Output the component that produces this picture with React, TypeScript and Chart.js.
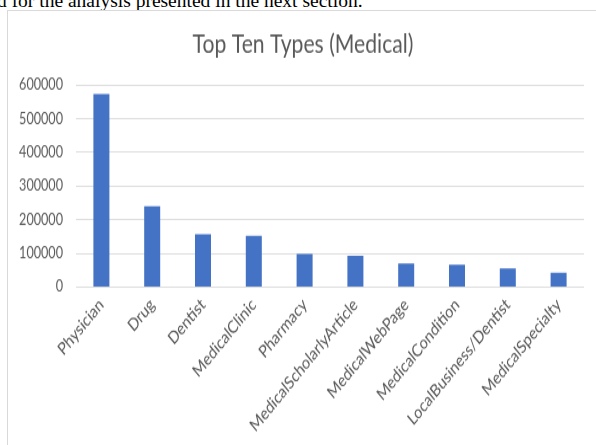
import React, { useEffect, useRef } from 'react';
import { Chart, registerables } from 'chart.js';

Chart.register(...registerables);

const categories = [
  'Physician',
  'Drug',
  'Dentist',
  'MedicalClinic',
  'Pharmacy',
  'MedicalScholarlyArticle',
  'MedicalWebPage',
  'MedicalCondition',
  'LocalBusiness/Dentist',
  'MedicalSpecialty',
];
const counts = [573000, 240000, 157000, 152000, 98000, 93000, 70000, 66000, 55000, 42500];
const yTicks = [0, 100000, 200000, 300000, 400000, 500000, 600000];
const titleText = 'Top Ten Types (Medical)';
const captionText = 'd for the analysis presented in the next section.';

const STRETCH = 1.23;
const CW = 588;
const CH = 360;
const FAMILY = 'Lato, "Open Sans", sans-serif';
const TEXT = '#595959';

function fitSize(text: string, target: number): number {
  const ctx = document.createElement('canvas').getContext('2d')!;
  ctx.font = `100px ${FAMILY}`;
  return (100 * target) / ctx.measureText(text).width;
}

const titleShift = {
  id: 'titleShift',
  afterLayout(chart: any) {
    const tb = chart.titleBlock;
    if (tb) {
      tb.left = 14;
      tb.width = tb.right - tb.left;
    }
  },
};

export default function App() {
  const ref = useRef<HTMLCanvasElement | null>(null);

  useEffect(() => {
    if (!ref.current) return;
    const titleSize = fitSize(titleText, 221);
    const tickSize = fitSize('600000', 44);
    const xTickSize = fitSize('MedicalScholarlyArticle', 146);
    const yTopPx = (85 - 11) / STRETCH;
    const yBotPx = (287 - 11) / STRETCH;
    const titleMid = (44.5 - 11) / STRETCH;
    const titleTop = titleMid - titleSize * 0.6;
    const titleBottom = yTopPx - titleMid - titleSize * 0.6;

    const chart = new Chart(ref.current, {
      type: 'bar',
      data: {
        labels: categories,
        datasets: [
          {
            data: counts,
            backgroundColor: '#4472C4',
            borderWidth: 0,
            barPercentage: 0.315,
            categoryPercentage: 1,
          },
        ],
      },
      plugins: [titleShift],
      options: {
        responsive: false,
        animation: false,
        layout: { padding: { left: 0, right: 12, top: 0, bottom: 0 } },
        plugins: {
          legend: { display: false },
          tooltip: { enabled: false },
          title: {
            display: true,
            text: titleText,
            color: TEXT,
            font: { family: FAMILY, size: titleSize, weight: 'normal', lineHeight: 1.2 },
            padding: { top: titleTop, bottom: titleBottom },
          },
        },
        scales: {
          x: {
            grid: { display: false, drawTicks: false },
            border: { display: false },
            ticks: {
              color: TEXT,
              font: { family: FAMILY, size: xTickSize },
              minRotation: 45,
              maxRotation: 45,
              autoSkip: false,
              padding: 6,
            },
            afterFit: (s: any) => {
              s.height = CH - yBotPx;
            },
          },
          y: {
            min: 0,
            max: 600000,
            afterBuildTicks: (s: any) => {
              s.ticks = yTicks.map((v) => ({ value: v }));
            },
            ticks: {
              color: TEXT,
              font: { family: FAMILY, size: tickSize },
              padding: 13,
              callback: (v: any) => String(v),
            },
            grid: { color: '#d9d9d9', drawTicks: false, lineWidth: 0.9 },
            border: { display: false },
            afterFit: (s: any) => {
              s.width = 68;
            },
          },
        },
      },
    });
    return () => chart.destroy();
  }, []);

  return (
    <div style={{ position: 'fixed', left: 0, top: 0, width: 596, height: 445, overflow: 'hidden', background: '#fff' }}>
      <div
        style={{
          position: 'absolute',
          left: -3,
          top: -9,
          fontFamily: '"Liberation Serif", serif',
          fontSize: 19.5,
          lineHeight: '20px',
          color: '#000',
          whiteSpace: 'nowrap',
        }}
      >
        {captionText}
      </div>
      <div
        style={{
          position: 'absolute',
          left: 7,
          top: 10,
          width: 600,
          height: 460,
          borderLeft: '1px solid #d9d9d9',
          borderTop: '1px solid #d9d9d9',
          overflow: 'hidden',
          background: '#fff',
        }}
      >
        <div style={{ transform: `scaleY(${STRETCH})`, transformOrigin: '0 0', width: CW, height: CH }}>
          <canvas ref={ref} width={CW} height={CH} style={{ display: 'block', width: CW, height: CH }} />
        </div>
      </div>
    </div>
  );
}
